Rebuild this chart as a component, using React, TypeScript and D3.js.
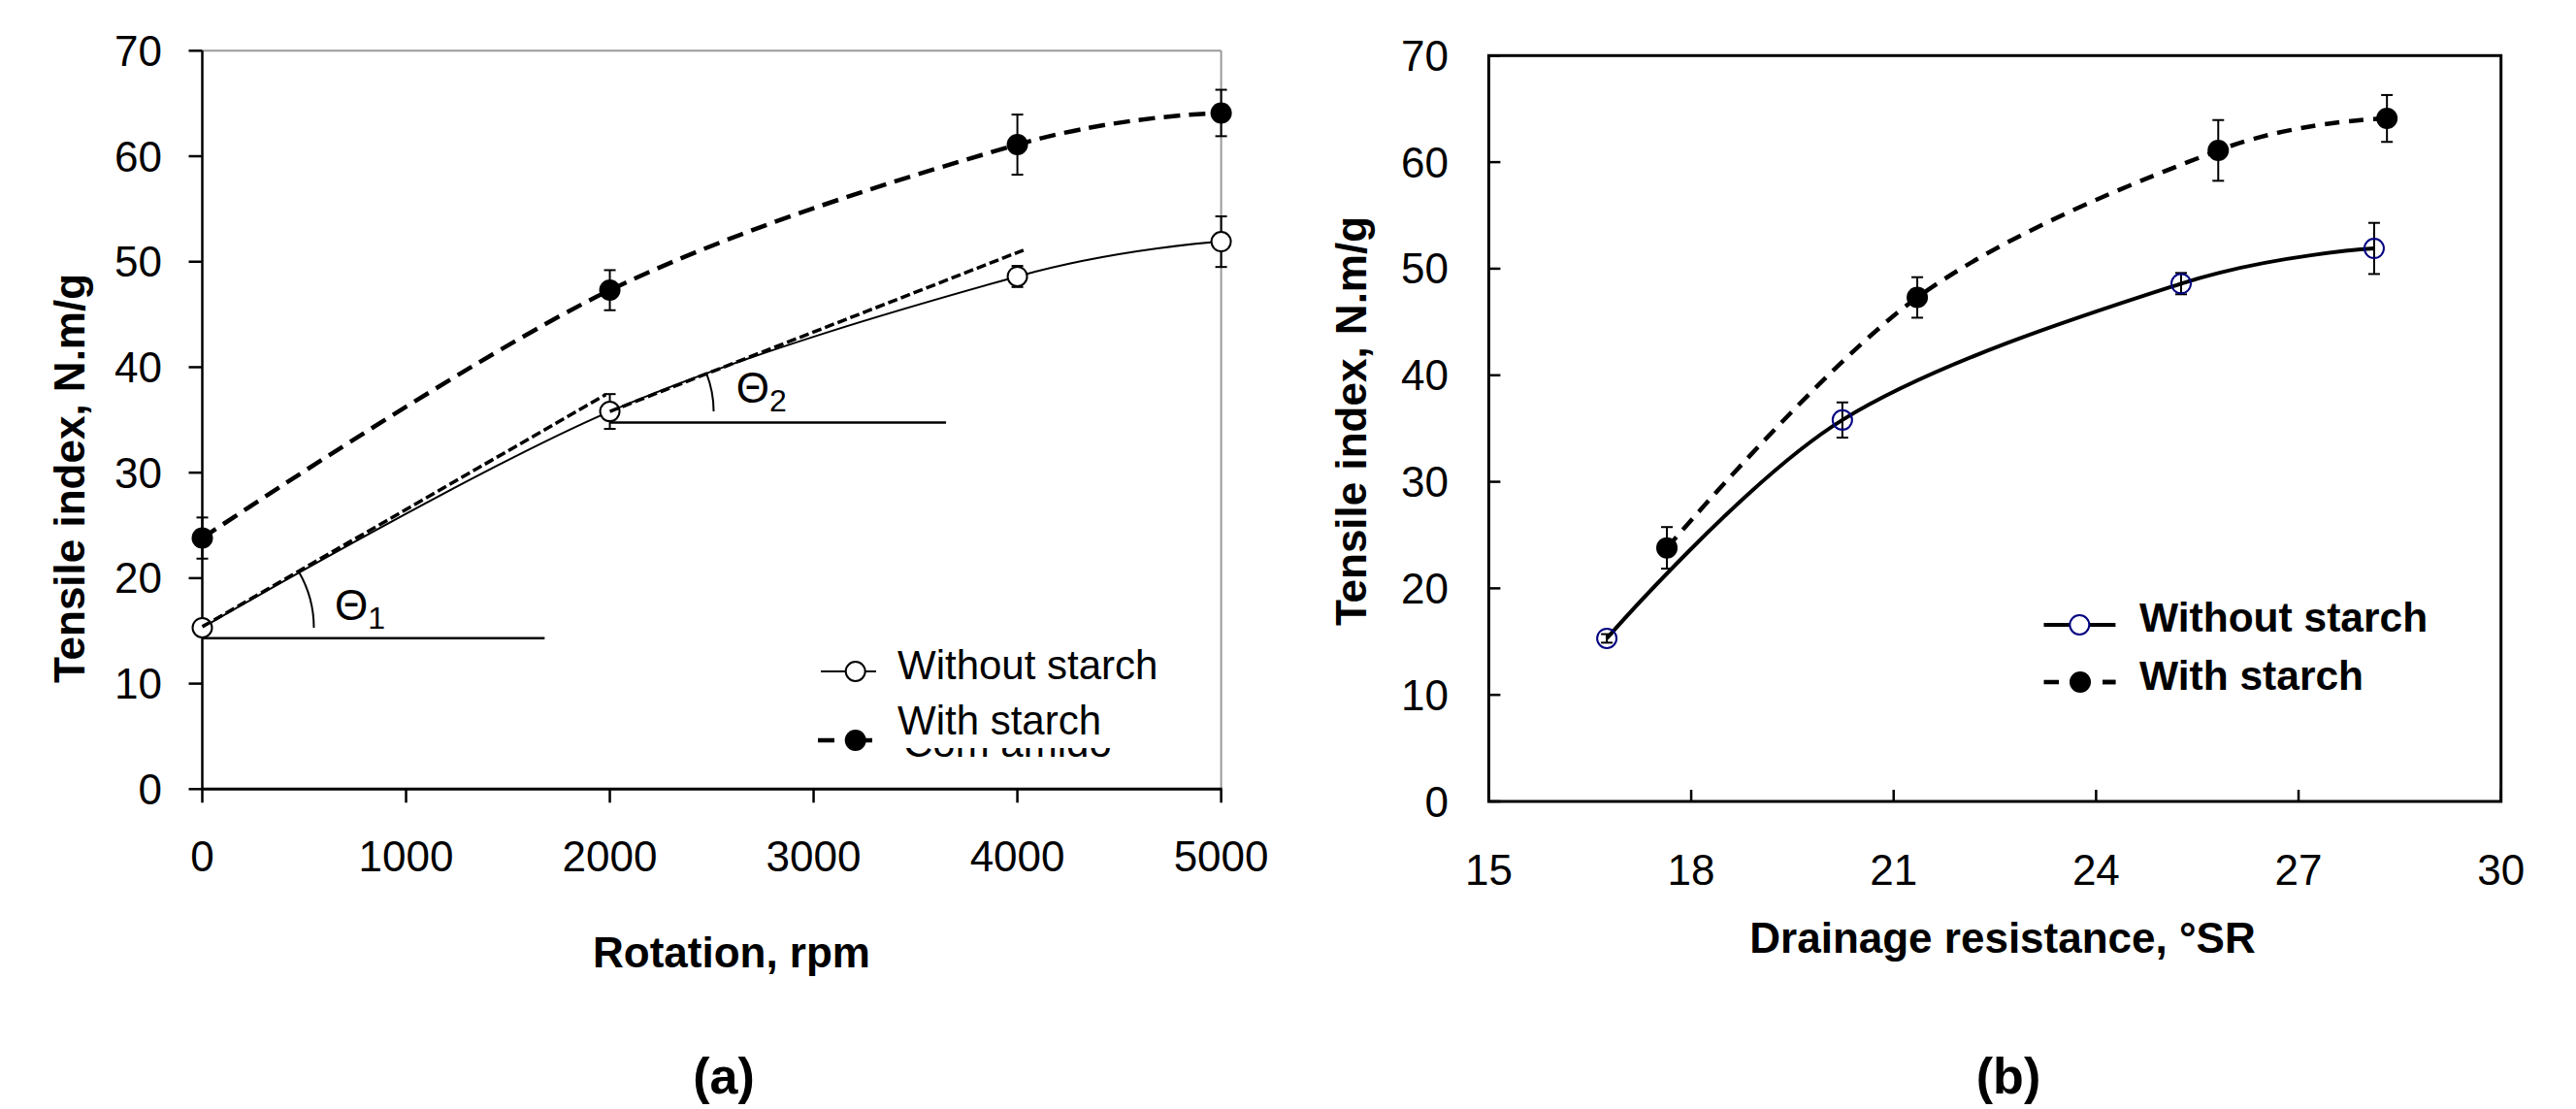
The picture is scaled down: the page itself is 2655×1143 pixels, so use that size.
import React from "react";
import * as d3 from "d3";

// ---------- data ----------
const rotationRpm = [0, 2000, 4000, 5000];
const drainageWithout = [16.75, 20.24, 25.26, 28.12];
const drainageWith = [17.64, 21.35, 25.81, 28.31];
const tensileWithout = [15.3, 35.8, 48.6, 51.9];
const errWithout = [0.4, 1.65, 1.0, 2.4];
const tensileWith = [23.8, 47.3, 61.1, 64.1];
const errWith = [1.95, 1.9, 2.85, 2.2];

const rpmTicks = [0, 1000, 2000, 3000, 4000, 5000];
const srTicks = [15, 18, 21, 24, 27, 30];
const tensileTicks = [0, 10, 20, 30, 40, 50, 60, 70];

// annotation lines of panel (a), in data units
const tangent1 = [[0, 15.4], [1980, 37.4]];
const tangent2 = [[2000, 35.8], [4030, 51.1]];
const baseLine1 = [[0, 14.3], [1680, 14.3]];
const baseLine2 = [[2000, 34.75], [3650, 34.75]];

const seriesNames = ["Without starch", "With starch"];
const hiddenLegendText = "Com amido";

const FONT = "'Liberation Sans', Arial, Helvetica, sans-serif";

export default function App() {
  const xA = d3.scaleLinear().domain([0, 5000]).range([208.5, 1258.6]);
  const yA = d3.scaleLinear().domain([0, 70]).range([813.3, 52.3]);
  const xB = d3.scaleLinear().domain([15, 30]).range([1534.4, 2577.7]);
  const yB = d3.scaleLinear().domain([0, 70]).range([826, 57.3]);

  const curve = d3.curveCardinal.tension(0);
  const lineA = d3.line<[number, number]>().x(d => xA(d[0])).y(d => yA(d[1])).curve(curve);
  const lineB = d3.line<[number, number]>().x(d => xB(d[0])).y(d => yB(d[1])).curve(curve);
  const straightA = d3.line<number[]>().x(d => xA(d[0])).y(d => yA(d[1]));

  const ptsAwo = rotationRpm.map((x, i) => [x, tensileWithout[i]] as [number, number]);
  const ptsAw = rotationRpm.map((x, i) => [x, tensileWith[i]] as [number, number]);
  const ptsBwo = drainageWithout.map((x, i) => [x, tensileWithout[i]] as [number, number]);
  const ptsBw = drainageWith.map((x, i) => [x, tensileWith[i]] as [number, number]);

  const errBar = (x: number, y0: number, y1: number, key: string) => (
    <g key={key} stroke="#000" strokeWidth={2}>
      <line x1={x} x2={x} y1={y0} y2={y1} />
      <line x1={x - 6} x2={x + 6} y1={y0} y2={y0} />
      <line x1={x - 6} x2={x + 6} y1={y1} y2={y1} />
    </g>
  );

  // theta arcs
  const arcPath = (cx: number, cy: number, r: number, tx: number, ty: number) => {
    const a = Math.atan2(cy - ty, tx - cx);
    const sx = cx + r * Math.cos(a);
    const sy = cy - r * Math.sin(a);
    return `M${sx},${sy} A${r},${r} 0 0 1 ${cx + r},${cy}`;
  };
  const arc1 = arcPath(xA(0), yA(tensileWithout[0]), 115, xA(tangent1[1][0]), yA(tangent1[1][1]));
  const arc2 = arcPath(xA(2000), yA(tensileWithout[1]), 107, xA(tangent2[1][0]), yA(tangent2[1][1]));

  return (
    <svg width={2655} height={1143} style={{ position: "absolute", left: 0, top: 0, display: "block", background: "#fff" }} fontFamily={FONT}>
      <rect x={0} y={0} width={2655} height={1143} fill="#fff" />

      {/* ================= Panel (a) ================= */}
      <g>
        {/* frame */}
        <line x1={xA(0)} x2={xA(5000)} y1={yA(70)} y2={yA(70)} stroke="#9a9a9a" strokeWidth={2} />
        <line x1={xA(5000)} x2={xA(5000)} y1={yA(70)} y2={yA(0)} stroke="#9a9a9a" strokeWidth={2} />
        <line x1={xA(0)} x2={xA(0)} y1={yA(70)} y2={yA(0)} stroke="#000" strokeWidth={2.5} />
        <line x1={xA(0) - 1} x2={xA(5000) + 1} y1={yA(0)} y2={yA(0)} stroke="#000" strokeWidth={3} />
        {tensileTicks.map(t => (
          <g key={"ay" + t}>
            <line x1={xA(0) - 14} x2={xA(0)} y1={yA(t)} y2={yA(t)} stroke="#000" strokeWidth={2.5} />
            <text x={167} y={yA(t) + 15.5} textAnchor="end" fontSize={44}>{t}</text>
          </g>
        ))}
        {rpmTicks.map(t => (
          <g key={"ax" + t}>
            <line x1={xA(t)} x2={xA(t)} y1={yA(0)} y2={yA(0) + 14} stroke="#000" strokeWidth={2.5} />
            <text x={xA(t)} y={898} textAnchor="middle" fontSize={44}>{t}</text>
          </g>
        ))}
        <text x={754} y={997} textAnchor="middle" fontSize={44} fontWeight="bold">Rotation, rpm</text>
        <text transform={`translate(87,493) rotate(-90)`} textAnchor="middle" fontSize={44} fontWeight="bold">Tensile index, N.m/g</text>
        <text x={746} y={1127} textAnchor="middle" fontSize={52} fontWeight="bold">(a)</text>

        {/* error bars */}
        {rotationRpm.map((x, i) => errBar(xA(x), yA(tensileWithout[i] + errWithout[i]), yA(tensileWithout[i] - errWithout[i]), "aeo" + i))}
        {rotationRpm.map((x, i) => errBar(xA(x), yA(tensileWith[i] + errWith[i]), yA(tensileWith[i] - errWith[i]), "aef" + i))}

        {/* series lines */}
        <path d={lineA(ptsAwo) || ""} fill="none" stroke="#000" strokeWidth={2} />
        <path d={lineA(ptsAw) || ""} fill="none" stroke="#000" strokeWidth={4.5} strokeDasharray="17,9" />

        {/* markers */}
        {ptsAwo.map((p, i) => (
          <circle key={"amo" + i} cx={xA(p[0])} cy={yA(p[1])} r={10} fill="#fff" stroke="#000" strokeWidth={2} />
        ))}
        {ptsAw.map((p, i) => (
          <circle key={"amf" + i} cx={xA(p[0])} cy={yA(p[1])} r={11} fill="#000" />
        ))}

        {/* annotations */}
        <path d={straightA(tangent1) || ""} fill="none" stroke="#000" strokeWidth={3.5} strokeDasharray="10,4" />
        <path d={straightA(tangent2) || ""} fill="none" stroke="#000" strokeWidth={3.5} strokeDasharray="10,4" />
        <path d={straightA(baseLine1) || ""} fill="none" stroke="#000" strokeWidth={2.5} />
        <path d={straightA(baseLine2) || ""} fill="none" stroke="#000" strokeWidth={2.5} />
        <path d={arc1} fill="none" stroke="#000" strokeWidth={2} />
        <path d={arc2} fill="none" stroke="#000" strokeWidth={2} />
        <text x={xA(650)} y={yA(16)} fontSize={44}>Θ<tspan dy={9} fontSize={32}>1</tspan></text>
        <text x={xA(2620)} y={yA(36.6)} fontSize={44}>Θ<tspan dy={9} fontSize={32}>2</tspan></text>

        {/* legend */}
        <line x1={846} x2={903} y1={692} y2={692} stroke="#000" strokeWidth={2} />
        <circle cx={881.7} cy={692} r={10} fill="#fff" stroke="#000" strokeWidth={2} />
        <text x={925} y={700} fontSize={42}>{seriesNames[0]}</text>
        <line x1={843} x2={916} y1={763} y2={763} stroke="#000" strokeWidth={4.5} strokeDasharray="17,22" />
        <circle cx={881.7} cy={763} r={11} fill="#000" />
        <text x={931} y={780} fontSize={42}>{hiddenLegendText}</text>
        <rect x={904} y={712} width={256} height={59} fill="#fff" />
        <text x={925} y={757} fontSize={42}>{seriesNames[1]}</text>
      </g>

      {/* ================= Panel (b) ================= */}
      <g>
        <rect x={xB(15)} y={yB(70)} width={xB(30) - xB(15)} height={yB(0) - yB(70)} fill="none" stroke="#000" strokeWidth={3} />
        {tensileTicks.map(t => (
          <g key={"by" + t}>
            <line x1={xB(15)} x2={xB(15) + 12} y1={yB(t)} y2={yB(t)} stroke="#000" strokeWidth={2.5} />
            <text x={1493} y={yB(t) + 15.5} textAnchor="end" fontSize={44}>{t}</text>
          </g>
        ))}
        {srTicks.map(t => (
          <g key={"bx" + t}>
            <line x1={xB(t)} x2={xB(t)} y1={yB(0)} y2={yB(0) - 12} stroke="#000" strokeWidth={2.5} />
            <text x={xB(t)} y={912} textAnchor="middle" fontSize={44}>{t}</text>
          </g>
        ))}
        <text x={2064} y={982} textAnchor="middle" fontSize={44} fontWeight="bold">Drainage resistance, °SR</text>
        <text transform={`translate(1408,434) rotate(-90)`} textAnchor="middle" fontSize={44} fontWeight="bold">Tensile index, N.m/g</text>
        <text x={2070} y={1127} textAnchor="middle" fontSize={52} fontWeight="bold">(b)</text>

        {/* lines */}
        <path d={lineB(ptsBwo) || ""} fill="none" stroke="#000" strokeWidth={4} />
        <path d={lineB(ptsBw) || ""} fill="none" stroke="#000" strokeWidth={4.5} strokeDasharray="15,10" />

        {/* error bars */}
        {drainageWithout.map((x, i) => errBar(xB(x), yB(tensileWithout[i] + errWithout[i]), yB(tensileWithout[i] - errWithout[i]), "beo" + i))}
        {drainageWith.map((x, i) => errBar(xB(x), yB(tensileWith[i] + errWith[i]), yB(tensileWith[i] - errWith[i]), "bef" + i))}

        {/* markers */}
        {ptsBwo.map((p, i) => (
          <circle key={"bmo" + i} cx={xB(p[0])} cy={yB(p[1])} r={10} fill="none" stroke="#000080" strokeWidth={2} />
        ))}
        {ptsBw.map((p, i) => (
          <circle key={"bmf" + i} cx={xB(p[0])} cy={yB(p[1])} r={11} fill="#000" />
        ))}

        {/* legend */}
        <line x1={2106.5} x2={2180.4} y1={644} y2={644} stroke="#000" strokeWidth={4} />
        <circle cx={2143.3} cy={644} r={10} fill="#fff" stroke="#000080" strokeWidth={2} />
        <text x={2205} y={651} fontSize={42.5} fontWeight="bold">{seriesNames[0]}</text>
        <line x1={2106.5} x2={2180.4} y1={703} y2={703} stroke="#000" strokeWidth={4.5} strokeDasharray="15.5,45" />
        <line x1={2167} x2={2180.4} y1={703} y2={703} stroke="#000" strokeWidth={4.5} />
        <circle cx={2144} cy={703} r={11} fill="#000" />
        <text x={2205} y={711} fontSize={42.5} fontWeight="bold">{seriesNames[1]}</text>
      </g>
    </svg>
  );
}
